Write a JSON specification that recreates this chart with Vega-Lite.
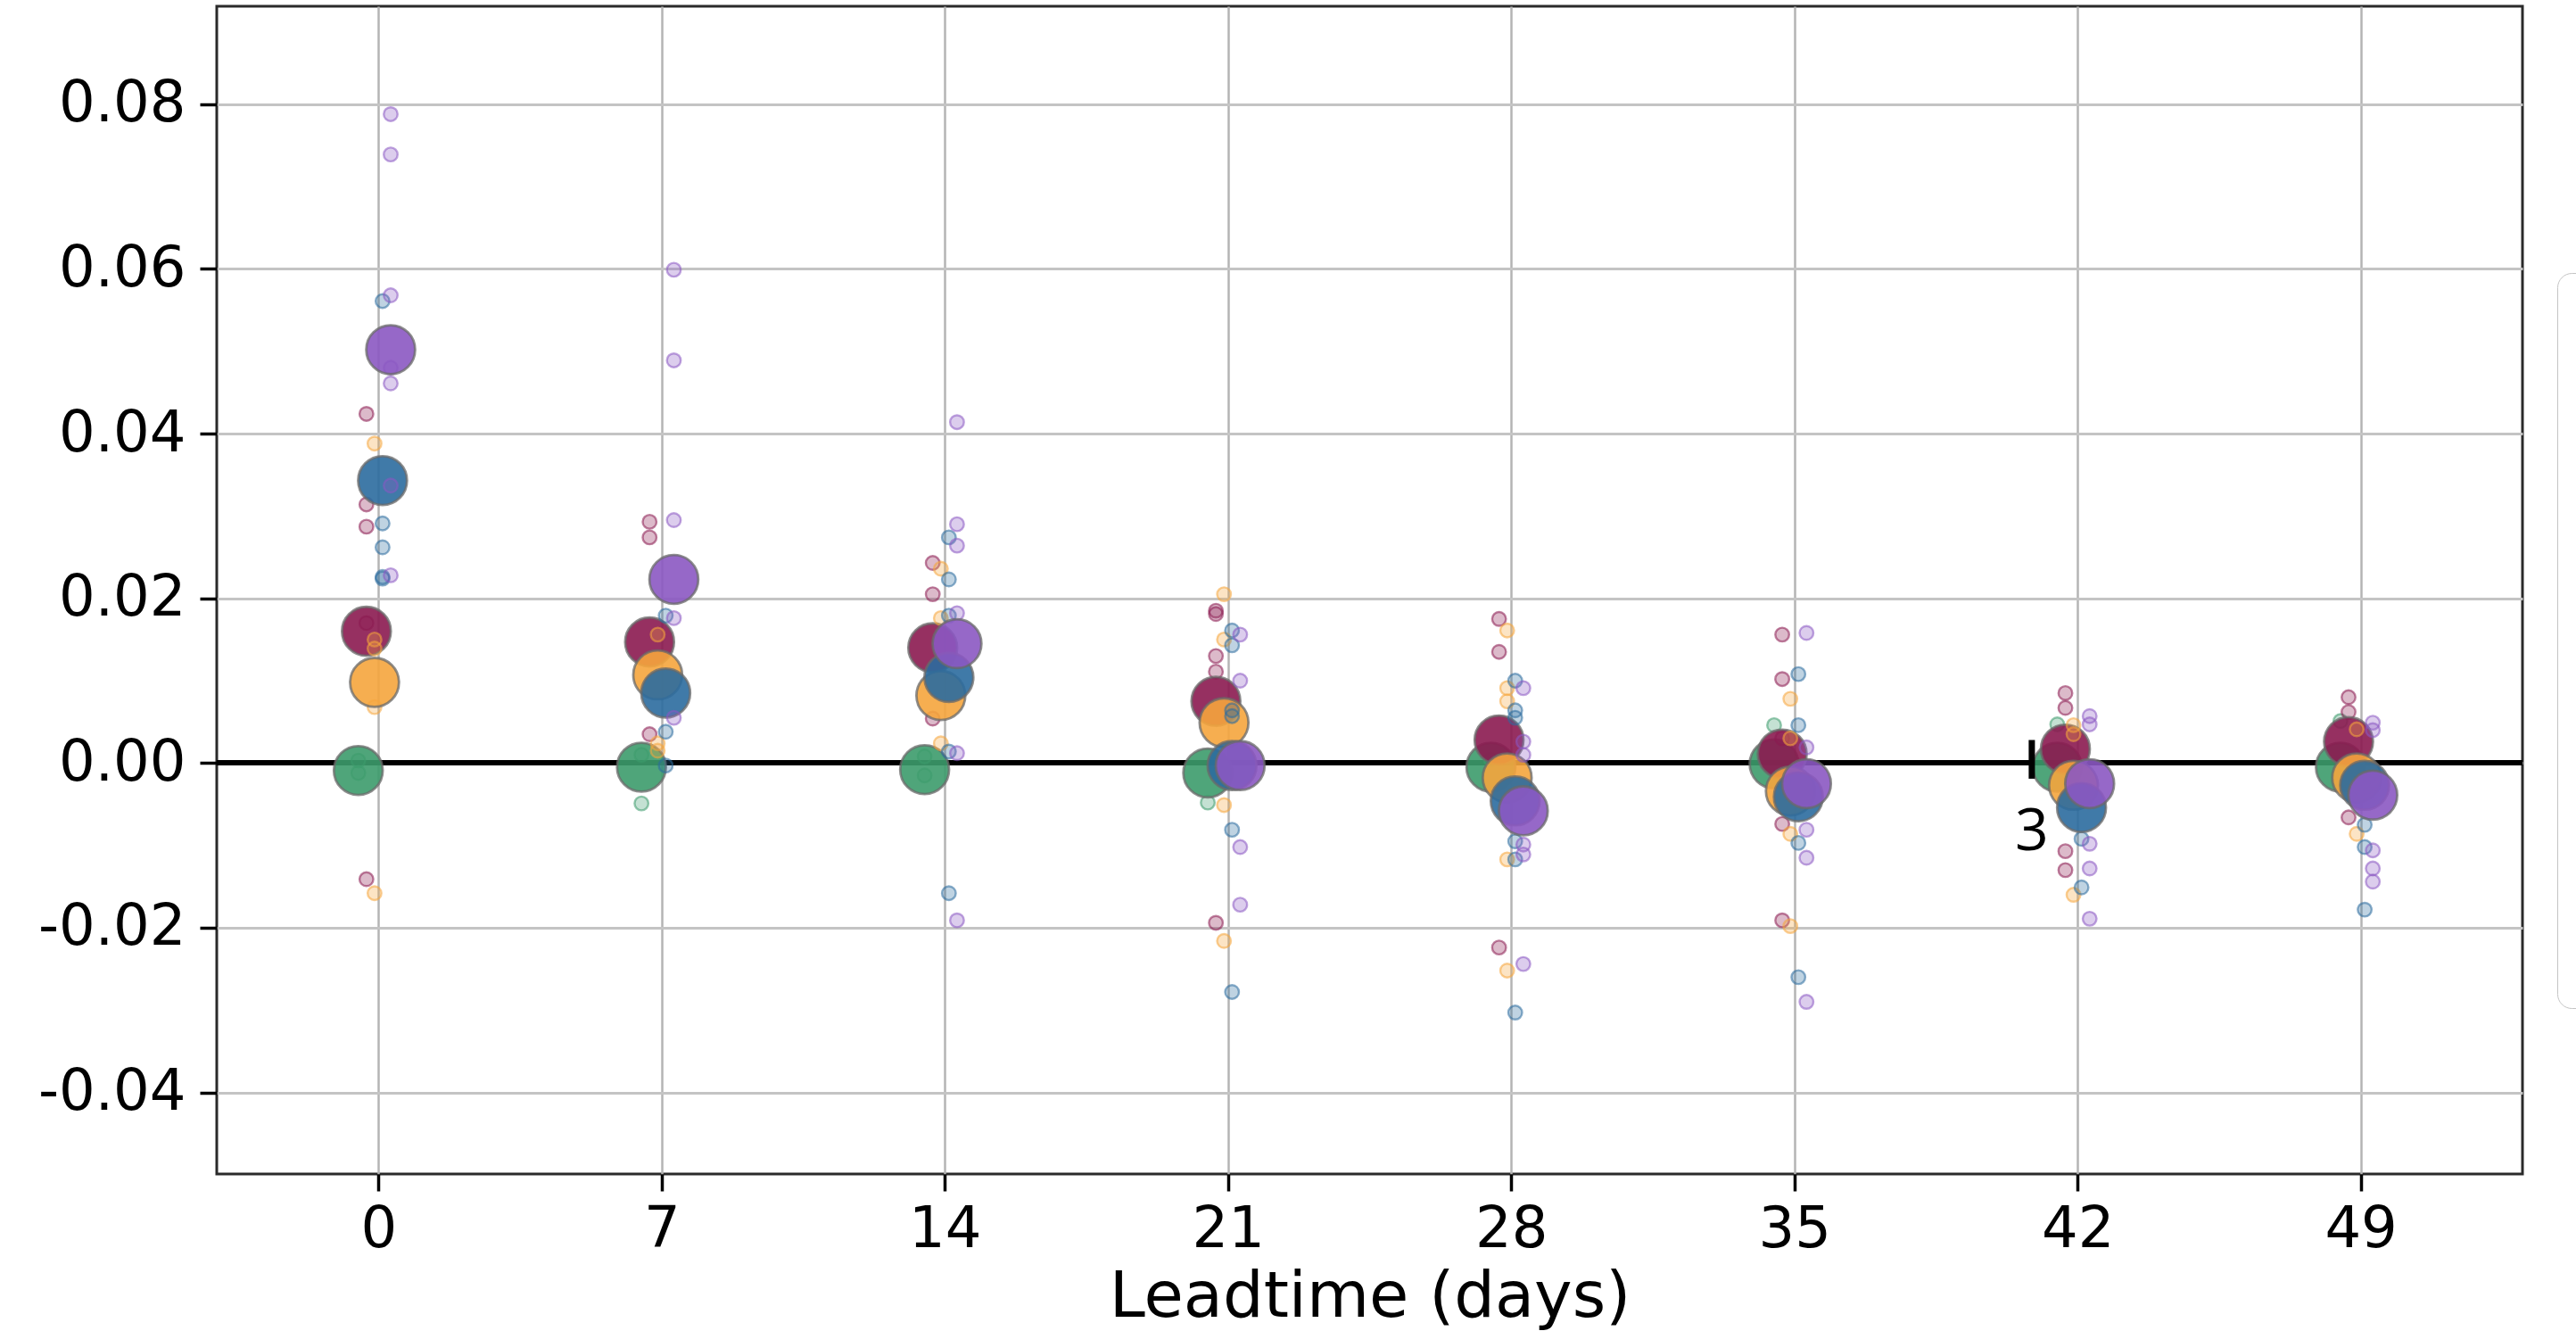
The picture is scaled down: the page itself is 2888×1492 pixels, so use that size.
{
  "$schema": "https://vega.github.io/schema/vega-lite/v6.json",
  "autosize": {"type": "none"},
  "width": 2585,
  "height": 1309,
  "padding": {"left": 243, "top": 7, "right": 60, "bottom": 176},
  "background": "white",
  "config": {"view": {"stroke": "#2a2a2a", "strokeWidth": 3}, "font": "DejaVu Sans"},
  "datasets": {
    "pts": [
      {"lead": 0, "model": "A", "kind": "member", "value": -0.0012},
      {"lead": 0, "model": "A", "kind": "member", "value": 0.0003},
      {"lead": 7, "model": "A", "kind": "member", "value": -0.0049},
      {"lead": 7, "model": "A", "kind": "member", "value": 0.0010},
      {"lead": 14, "model": "A", "kind": "member", "value": 0.0008},
      {"lead": 14, "model": "A", "kind": "member", "value": -0.0015},
      {"lead": 21, "model": "A", "kind": "member", "value": -0.0048},
      {"lead": 28, "model": "A", "kind": "member", "value": 0.0004},
      {"lead": 35, "model": "A", "kind": "member", "value": 0.0046},
      {"lead": 42, "model": "A", "kind": "member", "value": 0.0047},
      {"lead": 49, "model": "A", "kind": "member", "value": 0.0051},
      {"lead": 0, "model": "A", "kind": "mean", "value": -0.0009},
      {"lead": 7, "model": "A", "kind": "mean", "value": -0.0005},
      {"lead": 14, "model": "A", "kind": "mean", "value": -0.0008},
      {"lead": 21, "model": "A", "kind": "mean", "value": -0.0012},
      {"lead": 28, "model": "A", "kind": "mean", "value": -0.0005},
      {"lead": 35, "model": "A", "kind": "mean", "value": -0.0001},
      {"lead": 42, "model": "A", "kind": "mean", "value": -0.0005},
      {"lead": 49, "model": "A", "kind": "mean", "value": -0.0005},

      {"lead": 0, "model": "B", "kind": "member", "value": 0.0424},
      {"lead": 0, "model": "B", "kind": "member", "value": 0.0314},
      {"lead": 0, "model": "B", "kind": "member", "value": 0.0287},
      {"lead": 0, "model": "B", "kind": "member", "value": -0.0141},
      {"lead": 0, "model": "B", "kind": "member", "value": 0.0170},
      {"lead": 7, "model": "B", "kind": "member", "value": 0.0293},
      {"lead": 7, "model": "B", "kind": "member", "value": 0.0274},
      {"lead": 7, "model": "B", "kind": "member", "value": 0.0035},
      {"lead": 14, "model": "B", "kind": "member", "value": 0.0243},
      {"lead": 14, "model": "B", "kind": "member", "value": 0.0205},
      {"lead": 14, "model": "B", "kind": "member", "value": 0.0054},
      {"lead": 21, "model": "B", "kind": "member", "value": 0.0185},
      {"lead": 21, "model": "B", "kind": "member", "value": 0.0181},
      {"lead": 21, "model": "B", "kind": "member", "value": 0.0130},
      {"lead": 21, "model": "B", "kind": "member", "value": 0.0111},
      {"lead": 21, "model": "B", "kind": "member", "value": -0.0194},
      {"lead": 28, "model": "B", "kind": "member", "value": 0.0175},
      {"lead": 28, "model": "B", "kind": "member", "value": 0.0135},
      {"lead": 28, "model": "B", "kind": "member", "value": -0.0224},
      {"lead": 35, "model": "B", "kind": "member", "value": 0.0156},
      {"lead": 35, "model": "B", "kind": "member", "value": 0.0102},
      {"lead": 35, "model": "B", "kind": "member", "value": 0.0030},
      {"lead": 35, "model": "B", "kind": "member", "value": -0.0074},
      {"lead": 35, "model": "B", "kind": "member", "value": -0.0191},
      {"lead": 42, "model": "B", "kind": "member", "value": 0.0085},
      {"lead": 42, "model": "B", "kind": "member", "value": 0.0067},
      {"lead": 42, "model": "B", "kind": "member", "value": -0.0107},
      {"lead": 42, "model": "B", "kind": "member", "value": -0.0130},
      {"lead": 49, "model": "B", "kind": "member", "value": 0.0080},
      {"lead": 49, "model": "B", "kind": "member", "value": 0.0062},
      {"lead": 49, "model": "B", "kind": "member", "value": -0.0066},
      {"lead": 0, "model": "B", "kind": "mean", "value": 0.0160},
      {"lead": 7, "model": "B", "kind": "mean", "value": 0.0147},
      {"lead": 14, "model": "B", "kind": "mean", "value": 0.0140},
      {"lead": 21, "model": "B", "kind": "mean", "value": 0.0075},
      {"lead": 28, "model": "B", "kind": "mean", "value": 0.0028},
      {"lead": 35, "model": "B", "kind": "mean", "value": 0.0011},
      {"lead": 42, "model": "B", "kind": "mean", "value": 0.0017},
      {"lead": 49, "model": "B", "kind": "mean", "value": 0.0026},

      {"lead": 0, "model": "C", "kind": "member", "value": 0.0388},
      {"lead": 0, "model": "C", "kind": "member", "value": 0.0150},
      {"lead": 0, "model": "C", "kind": "member", "value": 0.0139},
      {"lead": 0, "model": "C", "kind": "member", "value": 0.0068},
      {"lead": 0, "model": "C", "kind": "member", "value": -0.0158},
      {"lead": 7, "model": "C", "kind": "member", "value": 0.0156},
      {"lead": 7, "model": "C", "kind": "member", "value": 0.0024},
      {"lead": 7, "model": "C", "kind": "member", "value": 0.0015},
      {"lead": 14, "model": "C", "kind": "member", "value": 0.0236},
      {"lead": 14, "model": "C", "kind": "member", "value": 0.0176},
      {"lead": 14, "model": "C", "kind": "member", "value": 0.0024},
      {"lead": 21, "model": "C", "kind": "member", "value": 0.0205},
      {"lead": 21, "model": "C", "kind": "member", "value": 0.0150},
      {"lead": 21, "model": "C", "kind": "member", "value": -0.0051},
      {"lead": 21, "model": "C", "kind": "member", "value": -0.0216},
      {"lead": 28, "model": "C", "kind": "member", "value": 0.0161},
      {"lead": 28, "model": "C", "kind": "member", "value": 0.0091},
      {"lead": 28, "model": "C", "kind": "member", "value": 0.0075},
      {"lead": 28, "model": "C", "kind": "member", "value": -0.0117},
      {"lead": 28, "model": "C", "kind": "member", "value": -0.0252},
      {"lead": 35, "model": "C", "kind": "member", "value": 0.0078},
      {"lead": 35, "model": "C", "kind": "member", "value": 0.0030},
      {"lead": 35, "model": "C", "kind": "member", "value": -0.0086},
      {"lead": 35, "model": "C", "kind": "member", "value": -0.0198},
      {"lead": 42, "model": "C", "kind": "member", "value": 0.0046},
      {"lead": 42, "model": "C", "kind": "member", "value": 0.0035},
      {"lead": 42, "model": "C", "kind": "member", "value": -0.0160},
      {"lead": 49, "model": "C", "kind": "member", "value": 0.0041},
      {"lead": 49, "model": "C", "kind": "member", "value": -0.0086},
      {"lead": 0, "model": "C", "kind": "mean", "value": 0.0098},
      {"lead": 7, "model": "C", "kind": "mean", "value": 0.0107},
      {"lead": 14, "model": "C", "kind": "mean", "value": 0.0082},
      {"lead": 21, "model": "C", "kind": "mean", "value": 0.0049},
      {"lead": 28, "model": "C", "kind": "mean", "value": -0.0018},
      {"lead": 35, "model": "C", "kind": "mean", "value": -0.0034},
      {"lead": 42, "model": "C", "kind": "mean", "value": -0.0027},
      {"lead": 49, "model": "C", "kind": "mean", "value": -0.0018},

      {"lead": 0, "model": "D", "kind": "member", "value": 0.0561},
      {"lead": 0, "model": "D", "kind": "member", "value": 0.0291},
      {"lead": 0, "model": "D", "kind": "member", "value": 0.0262},
      {"lead": 0, "model": "D", "kind": "member", "value": 0.0224},
      {"lead": 0, "model": "D", "kind": "member", "value": 0.0226},
      {"lead": 7, "model": "D", "kind": "member", "value": 0.0179},
      {"lead": 7, "model": "D", "kind": "member", "value": 0.0038},
      {"lead": 7, "model": "D", "kind": "member", "value": -0.0003},
      {"lead": 14, "model": "D", "kind": "member", "value": 0.0274},
      {"lead": 14, "model": "D", "kind": "member", "value": 0.0223},
      {"lead": 14, "model": "D", "kind": "member", "value": 0.0179},
      {"lead": 14, "model": "D", "kind": "member", "value": 0.0014},
      {"lead": 14, "model": "D", "kind": "member", "value": -0.0158},
      {"lead": 21, "model": "D", "kind": "member", "value": 0.0161},
      {"lead": 21, "model": "D", "kind": "member", "value": 0.0143},
      {"lead": 21, "model": "D", "kind": "member", "value": 0.0064},
      {"lead": 21, "model": "D", "kind": "member", "value": 0.0057},
      {"lead": 21, "model": "D", "kind": "member", "value": -0.0081},
      {"lead": 21, "model": "D", "kind": "member", "value": -0.0278},
      {"lead": 28, "model": "D", "kind": "member", "value": 0.0100},
      {"lead": 28, "model": "D", "kind": "member", "value": 0.0064},
      {"lead": 28, "model": "D", "kind": "member", "value": 0.0055},
      {"lead": 28, "model": "D", "kind": "member", "value": -0.0095},
      {"lead": 28, "model": "D", "kind": "member", "value": -0.0117},
      {"lead": 28, "model": "D", "kind": "member", "value": -0.0303},
      {"lead": 35, "model": "D", "kind": "member", "value": 0.0108},
      {"lead": 35, "model": "D", "kind": "member", "value": 0.0046},
      {"lead": 35, "model": "D", "kind": "member", "value": -0.0097},
      {"lead": 35, "model": "D", "kind": "member", "value": -0.0260},
      {"lead": 42, "model": "D", "kind": "member", "value": -0.0092},
      {"lead": 42, "model": "D", "kind": "member", "value": -0.0151},
      {"lead": 49, "model": "D", "kind": "member", "value": -0.0075},
      {"lead": 49, "model": "D", "kind": "member", "value": -0.0102},
      {"lead": 49, "model": "D", "kind": "member", "value": -0.0178},
      {"lead": 0, "model": "D", "kind": "mean", "value": 0.0343},
      {"lead": 7, "model": "D", "kind": "mean", "value": 0.0085},
      {"lead": 14, "model": "D", "kind": "mean", "value": 0.0104},
      {"lead": 21, "model": "D", "kind": "mean", "value": -0.0003},
      {"lead": 28, "model": "D", "kind": "mean", "value": -0.0046},
      {"lead": 35, "model": "D", "kind": "mean", "value": -0.0041},
      {"lead": 42, "model": "D", "kind": "mean", "value": -0.0054},
      {"lead": 49, "model": "D", "kind": "mean", "value": -0.0027},

      {"lead": 0, "model": "E", "kind": "member", "value": 0.0788},
      {"lead": 0, "model": "E", "kind": "member", "value": 0.0739},
      {"lead": 0, "model": "E", "kind": "member", "value": 0.0568},
      {"lead": 0, "model": "E", "kind": "member", "value": 0.0461},
      {"lead": 0, "model": "E", "kind": "member", "value": 0.0228},
      {"lead": 0, "model": "E", "kind": "member", "value": 0.0337},
      {"lead": 0, "model": "E", "kind": "member", "value": 0.0480},
      {"lead": 7, "model": "E", "kind": "member", "value": 0.0599},
      {"lead": 7, "model": "E", "kind": "member", "value": 0.0489},
      {"lead": 7, "model": "E", "kind": "member", "value": 0.0295},
      {"lead": 7, "model": "E", "kind": "member", "value": 0.0176},
      {"lead": 7, "model": "E", "kind": "member", "value": 0.0055},
      {"lead": 14, "model": "E", "kind": "member", "value": 0.0414},
      {"lead": 14, "model": "E", "kind": "member", "value": 0.0290},
      {"lead": 14, "model": "E", "kind": "member", "value": 0.0264},
      {"lead": 14, "model": "E", "kind": "member", "value": 0.0182},
      {"lead": 14, "model": "E", "kind": "member", "value": 0.0012},
      {"lead": 14, "model": "E", "kind": "member", "value": -0.0191},
      {"lead": 21, "model": "E", "kind": "member", "value": 0.0156},
      {"lead": 21, "model": "E", "kind": "member", "value": 0.0100},
      {"lead": 21, "model": "E", "kind": "member", "value": -0.0102},
      {"lead": 21, "model": "E", "kind": "member", "value": -0.0172},
      {"lead": 28, "model": "E", "kind": "member", "value": 0.0091},
      {"lead": 28, "model": "E", "kind": "member", "value": 0.0026},
      {"lead": 28, "model": "E", "kind": "member", "value": 0.0010},
      {"lead": 28, "model": "E", "kind": "member", "value": -0.0099},
      {"lead": 28, "model": "E", "kind": "member", "value": -0.0111},
      {"lead": 28, "model": "E", "kind": "member", "value": -0.0244},
      {"lead": 35, "model": "E", "kind": "member", "value": 0.0158},
      {"lead": 35, "model": "E", "kind": "member", "value": 0.0019},
      {"lead": 35, "model": "E", "kind": "member", "value": -0.0081},
      {"lead": 35, "model": "E", "kind": "member", "value": -0.0115},
      {"lead": 35, "model": "E", "kind": "member", "value": -0.0290},
      {"lead": 42, "model": "E", "kind": "member", "value": 0.0057},
      {"lead": 42, "model": "E", "kind": "member", "value": 0.0047},
      {"lead": 42, "model": "E", "kind": "member", "value": -0.0098},
      {"lead": 42, "model": "E", "kind": "member", "value": -0.0128},
      {"lead": 42, "model": "E", "kind": "member", "value": -0.0189},
      {"lead": 49, "model": "E", "kind": "member", "value": 0.0049},
      {"lead": 49, "model": "E", "kind": "member", "value": 0.0040},
      {"lead": 49, "model": "E", "kind": "member", "value": -0.0106},
      {"lead": 49, "model": "E", "kind": "member", "value": -0.0128},
      {"lead": 49, "model": "E", "kind": "member", "value": -0.0144},
      {"lead": 0, "model": "E", "kind": "mean", "value": 0.0502},
      {"lead": 7, "model": "E", "kind": "mean", "value": 0.0223},
      {"lead": 14, "model": "E", "kind": "mean", "value": 0.0145},
      {"lead": 21, "model": "E", "kind": "mean", "value": -0.0003},
      {"lead": 28, "model": "E", "kind": "mean", "value": -0.0058},
      {"lead": 35, "model": "E", "kind": "mean", "value": -0.0025},
      {"lead": 42, "model": "E", "kind": "mean", "value": -0.0025},
      {"lead": 49, "model": "E", "kind": "mean", "value": -0.0039}
    ],
    "annot": [
      {"lead": 40.87, "top": 0.0028, "bottom": -0.0019, "label": "3", "labelY": -0.0084}
    ]
  },
  "data": {"name": "pts"},
  "layer": [
    {
      "mark": {"type": "rule", "color": "black", "strokeWidth": 5},
      "encoding": {
        "y": {"datum": 0, "type": "quantitative", "scale": {"domain": [-0.0499, 0.0919], "nice": false, "zero": false}}
      }
    },
    {
      "encoding": {
        "x": {
          "field": "lead", "type": "quantitative",
          "scale": {"domain": [-4, 53], "nice": false, "zero": false},
          "axis": {
            "values": [0, 7, 14, 21, 28, 35, 42, 49],
            "title": "Leadtime (days)",
            "titleFont": "DejaVu Sans", "titleFontSize": 72, "titleFontWeight": "normal", "titleColor": "black", "titlePadding": 8,
            "labelFont": "DejaVu Sans", "labelFontSize": 64, "labelColor": "black", "labelPadding": 11,
            "tickSize": 19, "tickWidth": 3.5, "tickColor": "black",
            "domain": false, "grid": true, "gridColor": "#b4b4b4", "gridWidth": 2.5
          }
        },
        "y": {
          "field": "value", "type": "quantitative",
          "scale": {"domain": [-0.0499, 0.0919], "nice": false, "zero": false},
          "axis": {
            "values": [-0.04, -0.02, 0, 0.02, 0.04, 0.06, 0.08],
            "labelExpr": "datum.value < 0 ? '-' + format(-datum.value, '.2f') : format(datum.value, '.2f')",
            "title": null,
            "labelFont": "DejaVu Sans", "labelFontSize": 64, "labelColor": "black", "labelPadding": 16,
            "tickSize": 19, "tickWidth": 3.5, "tickColor": "black",
            "domain": false, "grid": true, "gridColor": "#c4c4c4", "gridWidth": 3
          }
        },
        "fill": {
          "field": "model", "type": "nominal",
          "scale": {"domain": ["A", "B", "C", "D", "E"], "range": ["#3c9b6c", "#8b1a50", "#f5a53d", "#2b6c9e", "#8b58c2"]},
          "legend": {
            "orient": "none", "legendX": 2624, "legendY": 299, "direction": "vertical",
            "title": null, "strokeColor": "#c4c4c4", "cornerRadius": 16, "fillColor": "white",
            "padding": 30, "labelExpr": "''", "labelFontSize": 64, "symbolSize": 2900, "symbolType": "circle", "symbolOpacity": 0.9, "rowPadding": 111
          }
        },
        "stroke": {
          "condition": {"test": "datum.kind === 'mean'", "value": "#6a6a6a"},
          "field": "model", "type": "nominal",
          "scale": {"domain": ["A", "B", "C", "D", "E"], "range": ["#3c9b6c", "#8b1a50", "#f5a53d", "#2b6c9e", "#8b58c2"]},
          "legend": null
        },
        "size": {"condition": {"test": "datum.kind === 'mean'", "value": 3000}, "value": 240},
        "fillOpacity": {"condition": {"test": "datum.kind === 'mean'", "value": 0.9}, "value": 0.3},
        "strokeOpacity": {"condition": {"test": "datum.kind === 'mean'", "value": 0.75}, "value": 0.55},
        "strokeWidth": {"condition": {"test": "datum.kind === 'mean'", "value": 2.8}, "value": 2.4}
      },
      "layer": [
        {"transform": [{"filter": "datum.model === 'A'"}], "mark": {"type": "point", "filled": true, "shape": "circle", "opacity": 1, "xOffset": -22.7}},
        {"transform": [{"filter": "datum.model === 'B'"}], "mark": {"type": "point", "filled": true, "shape": "circle", "opacity": 1, "xOffset": -13.6}},
        {"transform": [{"filter": "datum.model === 'C'"}], "mark": {"type": "point", "filled": true, "shape": "circle", "opacity": 1, "xOffset": -4.5}},
        {"transform": [{"filter": "datum.model === 'D'"}], "mark": {"type": "point", "filled": true, "shape": "circle", "opacity": 1, "xOffset": 4.5}},
        {"transform": [{"filter": "datum.model === 'E'"}], "mark": {"type": "point", "filled": true, "shape": "circle", "opacity": 1, "xOffset": 13.6}}
      ]
    },
    {
      "data": {"name": "annot"},
      "mark": {"type": "rule", "color": "black", "strokeWidth": 7},
      "encoding": {
        "x": {"field": "lead", "type": "quantitative", "scale": {"domain": [-4, 53], "nice": false, "zero": false}},
        "y": {"field": "top", "type": "quantitative", "scale": {"domain": [-0.0499, 0.0919], "nice": false, "zero": false}},
        "y2": {"field": "bottom"}
      }
    },
    {
      "data": {"name": "annot"},
      "mark": {"type": "text", "color": "black", "font": "Open Sans", "fontSize": 66, "baseline": "middle", "align": "center"},
      "encoding": {
        "x": {"field": "lead", "type": "quantitative", "scale": {"domain": [-4, 53], "nice": false, "zero": false}},
        "y": {"field": "labelY", "type": "quantitative", "scale": {"domain": [-0.0499, 0.0919], "nice": false, "zero": false}},
        "text": {"field": "label"}
      }
    }
  ]
}
